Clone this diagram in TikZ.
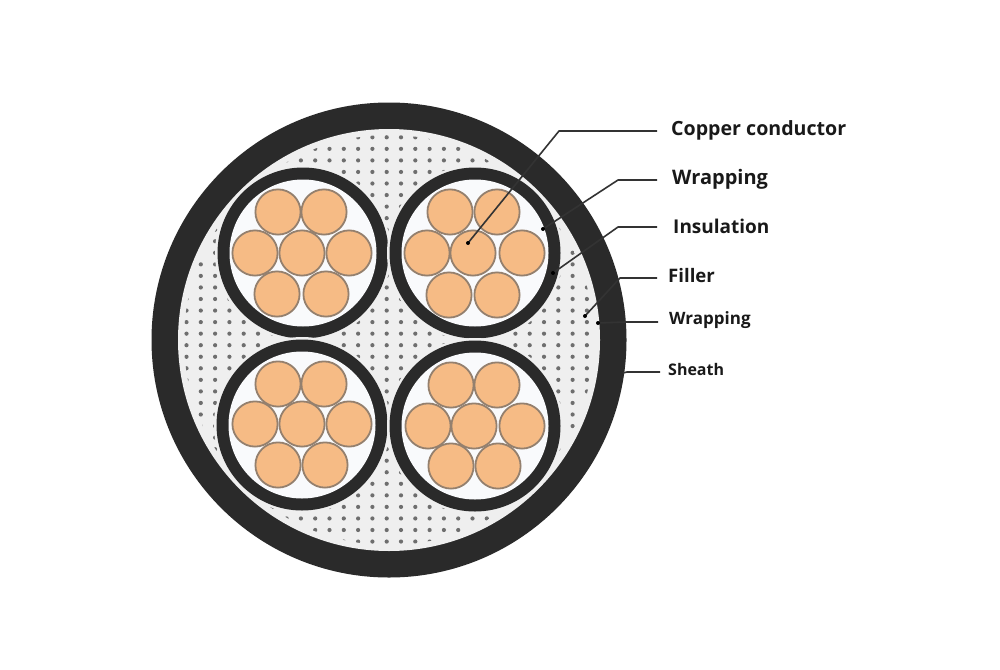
\documentclass[tikz,border=0pt]{standalone}
\usepackage{fontspec}
\setmainfont{Open Sans}
\definecolor{sheathc}{HTML}{2A2A2A}
\definecolor{fillerc}{HTML}{EFEFEF}
\definecolor{dotc}{HTML}{6E6E6E}
\definecolor{copperc}{HTML}{F6BB85}
\definecolor{copperb}{HTML}{94806E}
\definecolor{corebg}{HTML}{F9FAFC}
\definecolor{leadc}{HTML}{333333}
\tikzset{
  sheath/.style={fill=sheathc},
  filler/.style={fill=fillerc},
  fillerdot/.style={fill=dotc},
  halo/.style={fill=fillerc},
  ringout/.style={fill=sheathc},
  ringin/.style={fill=corebg},
  strand/.style={fill=copperc,draw=copperb,line width=1.8pt},
  lead/.style={draw=leadc,line width=1.6pt,line join=round},
  tip/.style={fill=black},
  lbl/.style={anchor=west,inner sep=0pt,font=\bfseries,text=black!90},
}
\begin{document}
\begin{tikzpicture}[x=1pt,y=-1pt]
\useasboundingbox[fill=white] (0,0) rectangle (1000,669);
% cable
\fill[sheath] (389,340) circle[radius=237.5pt];
\fill[filler] (389,340) circle[radius=211pt];
\begin{scope}
  \clip (389,340) circle[radius=205pt];
  \foreach \i in {-15,...,15}{
    \foreach \j in {-1,...,35}{
      \fill[fillerdot] ({386.7+14.3*\i},{137.3+11.55*\j}) circle[radius=2.1pt];
    }
  }
\end{scope}
% four cores
\foreach \cx/\cy in {303/253,475/253,302/425,475/426}{
  \fill[halo] (\cx,\cy) circle[radius=88pt];
  \fill[ringout] (\cx,\cy) circle[radius=85.5pt];
  \fill[ringin] (\cx,\cy) circle[radius=73.5pt];
}
\foreach \sx/\sy in {
  302/253,255/253,349/253,278/212,324/212,277/294,326/294,
  473/253,427/253,522/253,450/212,497/212,449/295,497/295,
  302/424,255/424,349/424,278/384,324/384,278/465,325/465,
  474/426,428/426,522/426,451/385,497/385,451/466,498/466}{
  \draw[strand] (\sx,\sy) circle[radius=22.6pt];
}
% labels
\node[lbl,font=\bfseries\fontsize{19.6}{22}\selectfont] (lcu) at (671,130) {Copper conductor};
\node[lbl,font=\bfseries\fontsize{20}{22}\selectfont] (lwa) at (672,179) {Wrapping};
\node[lbl,font=\bfseries\fontsize{19}{22}\selectfont] (lin) at (673,226) {Insulation};
\node[lbl,font=\bfseries\fontsize{18.6}{22}\selectfont] (lfi) at (668,276) {Filler};
\node[lbl,font=\bfseries\fontsize{17}{20}\selectfont] (lwb) at (669,320.5) {Wrapping};
\node[lbl,font=\bfseries\fontsize{16}{20}\selectfont] (lsh) at (668,369) {Sheath};
% leader points
\coordinate (pcu) at (468,243); \coordinate (bcu) at (559,131);
\coordinate (pwa) at (543,229); \coordinate (bwa) at (618,180);
\coordinate (pin) at (553,273); \coordinate (bin) at (618,227);
\coordinate (pfi) at (585,316); \coordinate (bfi) at (620,278);
\coordinate (pwb) at (598,323); \coordinate (bwb) at (625,322);
\coordinate (psh) at (623,373); \coordinate (bsh) at (627,372);
\draw[lead] (pcu) -- (bcu) -- ([xshift=-14pt]lcu.west |- bcu);
\draw[lead] (pwa) -- (bwa) -- ([xshift=-15pt]lwa.west |- bwa);
\draw[lead] (pin) -- (bin) -- ([xshift=-16pt]lin.west |- bin);
\draw[lead] (pfi) -- (bfi) -- ([xshift=-11pt]lfi.west |- bfi);
\draw[lead] (pwb) -- (bwb) -- ([xshift=-11pt]lwb.west |- bwb);
\draw[lead] (psh) -- (bsh) -- ([xshift=-8pt]lsh.west |- bsh);
\foreach \p in {pcu,pwa,pin,pfi,pwb}{\fill[tip] (\p) circle[radius=2pt];}
\end{tikzpicture}
\end{document}
